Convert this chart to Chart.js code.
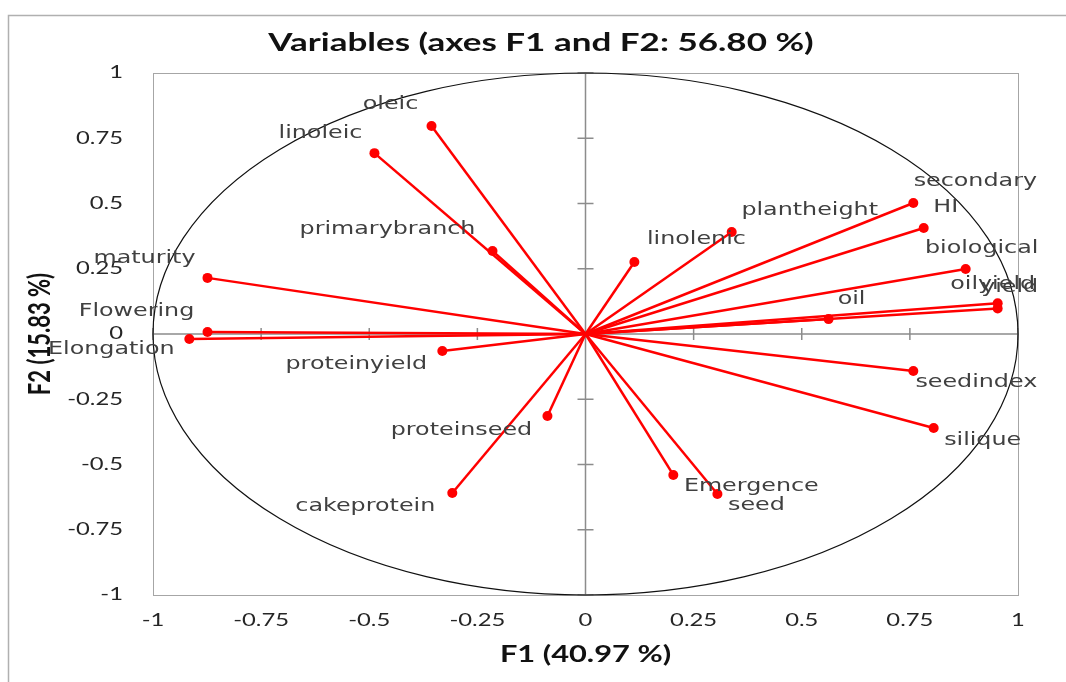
<!DOCTYPE html>
<html>
<head>
<meta charset="utf-8">
<script src="https://cdn.jsdelivr.net/npm/chart.js@4"></script>
<style>
  html, body { margin: 0; padding: 0; background: #fff; }
  #wrap { width: 1066px; height: 682px; }
</style>
</head>
<body>
<div id="wrap"><canvas id="pcaChart"></canvas></div>
<script>
// variables and their loadings on F1 / F2
const variables = ['oleic', 'linoleic', 'primarybranch', 'maturity', 'Flowering', 'Elongation',
  'proteinyield', 'proteinseed', 'cakeprotein', 'Emergence', 'seed', 'linolenic', 'plantheight',
  'secondary', 'HI', 'biological', 'oilyield', 'yield', 'oil', 'seedindex', 'silique'];
const f1 = [-0.356, -0.488, -0.215, -0.874, -0.874, -0.916, -0.331, -0.088, -0.308, 0.203, 0.305,
  0.113, 0.338, 0.758, 0.782, 0.879, 0.953, 0.953, 0.562, 0.758, 0.805];
const f2 = [0.797, 0.693, 0.318, 0.215, 0.008, -0.019, -0.065, -0.314, -0.609, -0.540, -0.613,
  0.276, 0.391, 0.502, 0.406, 0.249, 0.118, 0.098, 0.057, -0.142, -0.360];
const xTickLabels = ['-1', '-0.75', '-0.5', '-0.25', '0', '0.25', '0.5', '0.75', '1'];
const yTickLabels = ['-1', '-0.75', '-0.5', '-0.25', '0', '0.25', '0.5', '0.75', '1'];

// where each name sits relative to its point (px)
const labelOffsets = {
  oleic: [-41, -21], linoleic: [-54, -20], primarybranch: [-105, -21], maturity: [-63, -19],
  Flowering: [-71, -20], Elongation: [-78, 11], proteinyield: [-86, 14], proteinseed: [-86, 15],
  cakeprotein: [-87, 14], Emergence: [78, 12], seed: [39, 12], linolenic: [62, -22],
  plantheight: [78, -21], secondary: [62, -21], HI: [22, -20], biological: [16, -20],
  oilyield: [-5, -19], yield: [12, -21], oil: [23, -20], seedindex: [63, 12], silique: [49, 13]
};

const S = 1.4; // the reference is stretched sideways
function drawText(ctx, text, x, y, font, color, align, rot) {
  ctx.save();
  ctx.translate(x, y);
  ctx.scale(S, 1);
  if (rot) ctx.rotate(rot);
  ctx.font = font;
  ctx.fillStyle = color;
  ctx.textAlign = align || 'center';
  ctx.textBaseline = 'middle';
  ctx.fillText(text, 0, 0);
  ctx.restore();
}

const backdrop = {
  id: 'backdrop',
  beforeDraw(chart) {
    const { ctx, chartArea: a, scales: { x, y } } = chart;
    ctx.save();
    ctx.fillStyle = '#fff';
    ctx.fillRect(0, 0, chart.width, chart.height);
    ctx.strokeStyle = '#b0b0b0';
    ctx.lineWidth = 1.5;
    ctx.strokeRect(8.5, 15.5, 1100, 700);
    ctx.strokeStyle = '#a6a6a6';
    ctx.lineWidth = 1;
    ctx.strokeRect(a.left + 0.5, a.top + 0.5, a.right - a.left, a.bottom - a.top);
    // zero axes with cross ticks
    const x0 = x.getPixelForValue(0), y0 = y.getPixelForValue(0);
    ctx.strokeStyle = '#8c8c8c';
    ctx.lineWidth = 1.5;
    ctx.beginPath();
    ctx.moveTo(a.left, y0); ctx.lineTo(a.right, y0);
    ctx.moveTo(x0, a.top); ctx.lineTo(x0, a.bottom);
    xTickLabels.forEach(l => {
      const px = x.getPixelForValue(parseFloat(l));
      ctx.moveTo(px, y0 - 6); ctx.lineTo(px, y0 + 6);
    });
    yTickLabels.forEach(l => {
      const py = y.getPixelForValue(parseFloat(l));
      ctx.moveTo(x0 - 8, py); ctx.lineTo(x0 + 8, py);
    });
    ctx.stroke();
    // unit circle
    const rx = x.getPixelForValue(1) - x0, ry = y0 - y.getPixelForValue(1);
    ctx.strokeStyle = '#111';
    ctx.lineWidth = 1.2;
    ctx.beginPath();
    ctx.ellipse(x0, y0, rx, ry, 0, 0, Math.PI * 2);
    ctx.stroke();
    ctx.restore();
  },
  afterDraw(chart) {
    const { ctx, chartArea: a, scales: { x, y } } = chart;
    const tickFont = '17px Lato', tickCol = '#262626';
    xTickLabels.forEach(l => drawText(ctx, l, x.getPixelForValue(parseFloat(l)), 621, tickFont, tickCol, 'center'));
    yTickLabels.forEach(l => drawText(ctx, l, 123, y.getPixelForValue(parseFloat(l)), tickFont, tickCol, 'right'));
    drawText(ctx, 'Variables (axes F1 and F2: 56.80 %)', 541, 43, 'bold 25px Lato', '#111');
    drawText(ctx, 'F1 (40.97 %)', (a.left + a.right) / 2, 655, 'bold 22px Lato', '#111');
    drawText(ctx, 'F2 (15.83 %)', 40, (a.top + a.bottom) / 2, 'bold 22px Lato', '#111', 'center', -Math.PI / 2);
    variables.forEach((name, i) => {
      const off = labelOffsets[name];
      drawText(ctx, name, x.getPixelForValue(f1[i]) + off[0], y.getPixelForValue(f2[i]) + off[1],
        '17px "DejaVu Sans"', '#404040', 'center');
    });
  }
};

const datasets = variables.map((name, i) => ({
  label: name,
  data: [{ x: 0, y: 0 }, { x: f1[i], y: f2[i] }],
  showLine: true,
  borderColor: '#ff0000',
  borderWidth: 2.5,
  pointRadius: [0, 5],
  pointBackgroundColor: '#ff0000',
  pointBorderWidth: 0,
  pointHoverRadius: [0, 5]
}));

const ctx = document.getElementById('pcaChart').getContext('2d');
const pcaChart = new Chart(ctx, {
  type: 'scatter',
  data: { datasets },
  options: {
    responsive: true,
    maintainAspectRatio: false,
    animation: false,
    layout: { padding: { top: 73, right: 48, bottom: 0, left: 0 } },
    plugins: {
      legend: { display: false },
      tooltip: { enabled: false }
    },
    scales: {
      x: {
        min: -1, max: 1,
        ticks: { display: false, stepSize: 0.25 },
        grid: { display: false },
        border: { display: false },
        afterFit(s) { s.height = 87; }
      },
      y: {
        min: -1, max: 1,
        ticks: { display: false, stepSize: 0.25 },
        grid: { display: false },
        border: { display: false },
        afterFit(s) { s.width = 153; }
      }
    }
  },
  plugins: [backdrop]
});
</script>
</body>
</html>
